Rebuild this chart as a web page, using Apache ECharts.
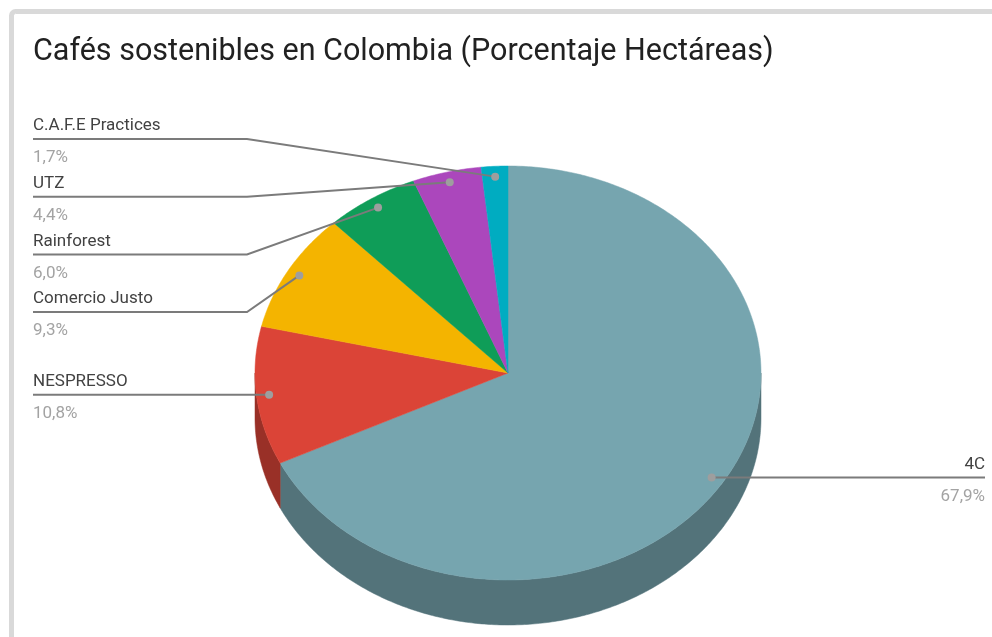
<!DOCTYPE html>
<html>
<head>
<meta charset="utf-8">
<script src="https://cdn.jsdelivr.net/npm/echarts@6/dist/echarts.min.js"></script>
<style>
  html, body { margin: 0; padding: 0; background: #fff; }
  #chart { width: 992px; height: 637px; }
</style>
</head>
<body>
<div id="chart"></div>
<script>
// ---- data ----
const categories = ['4C', 'NESPRESSO', 'Comercio Justo', 'Rainforest', 'UTZ', 'C.A.F.E Practices'];
const values = [67.9, 10.8, 9.3, 6.0, 4.4, 1.7];
const colors = ['#76a5af', '#db4437', '#f4b400', '#0f9d58', '#ab47bc', '#00acc1'];
const titleText = 'Cafés sostenibles en Colombia (Porcentaje Hectáreas)';

// ---- layout constants ----
const CX = 508, CY = 373, RX = 253, RY = 207, DEPTH = 45;
const ANCHOR_K = 0.95;
const ROW_GAP = 57.7, LABEL_TOP = 139;
const LEFT_X = 33, LEFT_ELBOW = 247, RIGHT_X = 985, RIGHT_ELBOW = 771;
const FONT = 'Roboto';

function darken(hex, f) {
  const n = parseInt(hex.slice(1), 16);
  const r = Math.round(((n >> 16) & 255) * f), g = Math.round(((n >> 8) & 255) * f), b = Math.round((n & 255) * f);
  return 'rgb(' + r + ',' + g + ',' + b + ')';
}
function pt(a, k) { // a: radians clockwise from top
  return [CX + RX * k * Math.sin(a), CY - RY * k * Math.cos(a)];
}
function fmt(v) { return v.toFixed(1).replace('.', ',') + '%'; }

const total = values.reduce((s, v) => s + v, 0);
const slices = [];
let acc = 0;
values.forEach((v, i) => {
  const a0 = acc / total * Math.PI * 2;
  acc += v;
  const a1 = acc / total * Math.PI * 2;
  const mid = (a0 + a1) / 2;
  slices.push({ i, a0, a1, mid, anchor: pt(mid, ANCHOR_K) });
});

// label layout: cluster overlapping labels per side
function layoutSide(items) {
  items.sort((p, q) => p.anchor[1] - q.anchor[1]);
  let groups = items.map(it => ({ items: [it] }));
  const center = g => g.items.reduce((s, it) => s + it.anchor[1], 0) / g.items.length;
  const first = g => center(g) - (g.items.length - 1) / 2 * ROW_GAP;
  const last = g => center(g) + (g.items.length - 1) / 2 * ROW_GAP;
  let changed = true;
  while (changed) {
    changed = false;
    for (let k = 0; k < groups.length - 1; k++) {
      if (first(groups[k + 1]) - last(groups[k]) < ROW_GAP) {
        groups[k].items = groups[k].items.concat(groups[k + 1].items);
        groups.splice(k + 1, 1);
        changed = true;
        break;
      }
    }
  }
  let minY = LABEL_TOP;
  groups.forEach(g => {
    let y = Math.max(first(g), minY);
    g.items.forEach(it => { it.rowY = y; y += ROW_GAP; });
    minY = y;
  });
}
const leftItems = slices.filter(s => s.mid > Math.PI);
const rightItems = slices.filter(s => s.mid <= Math.PI);
layoutSide(leftItems);
layoutSide(rightItems);
leftItems.forEach(s => s.side = 'left');
rightItems.forEach(s => s.side = 'right');

function arcPoints(a0, a1, k, dy) {
  const n = Math.max(2, Math.ceil((a1 - a0) / 0.01));
  const pts = [];
  for (let j = 0; j <= n; j++) {
    const a = a0 + (a1 - a0) * j / n;
    const p = pt(a, k);
    pts.push([p[0], p[1] + dy]);
  }
  return pts;
}

function renderPie(params, api) {
  const s = slices[params.dataIndex];
  const col = colors[s.i];
  const children = [];
  // visible side wall: angles in (PI/2, 3PI/2)
  const lo = Math.max(s.a0, Math.PI / 2), hi = Math.min(s.a1, Math.PI * 1.5);
  if (hi > lo) {
    const top = arcPoints(lo, hi, 1, 0);
    const bottom = arcPoints(lo, hi, 1, DEPTH).reverse();
    children.push({
      type: 'polygon',
      shape: { points: top.concat(bottom) },
      style: { fill: darken(col, 0.7), stroke: darken(col, 0.7), lineWidth: 0.5 }
    });
  }
  const face = [[CX, CY]].concat(arcPoints(s.a0, s.a1, 1, 0));
  children.push({
    type: 'polygon',
    z2: 10,
    shape: { points: face },
    style: { fill: col, stroke: col, lineWidth: 0.5 }
  });
  return { type: 'group', children };
}

function renderLabel(params, api) {
  const s = slices[params.dataIndex];
  const [ax, ay] = s.anchor;
  const y = s.rowY;
  const children = [];
  let pts, tx, align;
  if (s.side === 'left') {
    pts = [[LEFT_X, y], [LEFT_ELBOW, y], [ax, ay]];
    tx = LEFT_X; align = 'left';
  } else {
    pts = [[RIGHT_X, y], [RIGHT_ELBOW, y], [ax, ay]];
    tx = RIGHT_X; align = 'right';
  }
  children.push({
    type: 'polyline',
    shape: { points: pts },
    style: { stroke: '#7b7b7b', lineWidth: 2, fill: null }
  });
  children.push({
    type: 'circle',
    shape: { cx: ax, cy: ay, r: 4 },
    style: { fill: '#9e9e9e' }
  });
  children.push({
    type: 'text',
    style: {
      text: categories[s.i], x: tx, y: y - 13,
      fill: '#424242', fontSize: 17, fontFamily: FONT,
      textAlign: align, textVerticalAlign: 'middle', align: align, verticalAlign: 'middle'
    }
  });
  children.push({
    type: 'text',
    style: {
      text: fmt(values[s.i]), x: tx, y: y + 19,
      fill: '#a3a3a3', fontSize: 17, fontFamily: FONT,
      textAlign: align, textVerticalAlign: 'middle', align: align, verticalAlign: 'middle'
    }
  });
  return { type: 'group', children };
}

const chart = echarts.init(document.getElementById('chart'), null, { renderer: 'canvas' });
chart.setOption({
  animation: false,
  backgroundColor: '#ffffff',
  title: {
    text: titleText,
    left: 33, top: 37, padding: 0,
    textStyle: { fontFamily: FONT, fontSize: 30.5, fontWeight: 'normal', color: '#212121' }
  },
  graphic: [{
    type: 'rect',
    shape: { x: 11.5, y: 11.5, width: 1200, height: 800, r: 4 },
    style: { fill: 'none', stroke: '#d9d9d9', lineWidth: 5 },
    silent: true
  }],
  series: [
    {
      type: 'custom',
      coordinateSystem: 'none',
      renderItem: renderPie,
      data: values.map((v, i) => [v, i]),
      z: 2
    },
    {
      type: 'custom',
      coordinateSystem: 'none',
      renderItem: renderLabel,
      data: values.map((v, i) => [v, i]),
      z: 5
    }
  ]
});
</script>
</body>
</html>
